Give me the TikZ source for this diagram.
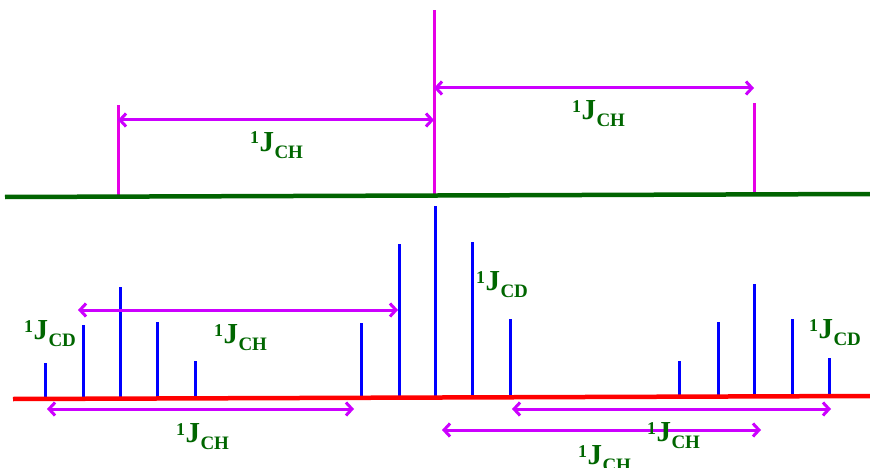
\documentclass[tikz,border=0pt]{standalone}
\usepackage{fontspec}
\setmainfont{Liberation Serif}
\usetikzlibrary{arrows.meta}
\definecolor{dgreen}{RGB}{0,100,0}
\definecolor{tgreen}{RGB}{0,102,0}
\definecolor{mag}{RGB}{230,0,230}
\definecolor{amag}{RGB}{204,0,255}
\newcommand\jlab[1]{\raisebox{7pt}{\fontsize{18}{18}\selectfont 1}\kern0.3pt{\fontsize{29}{29}\selectfont J}\kern0.5pt\raisebox{-7pt}{\fontsize{19}{19}\selectfont #1}}
\tikzset{
  peak/.style={draw=blue, line width=3pt},
  toppeak/.style={draw=mag, line width=3pt},
  jarrow/.style={draw=amag, line width=3pt, {Straight Barb[length=6pt,width=13pt]}-{Straight Barb[length=6pt,width=13pt]}},
  jtext/.style={text=tgreen, font=\bfseries, inner sep=0pt, anchor=base west},
}
\begin{document}
\begin{tikzpicture}[x=1pt,y=-1pt]
\useasboundingbox (0,0) rectangle (870,468);
% top spectrum
\coordinate (g1) at (5,197);
\coordinate (g2) at (870,194);
\coordinate (t1b) at (118,197); \coordinate (t1t) at (118,105);
\coordinate (t2b) at (434,196); \coordinate (t2t) at (434,10);
\coordinate (t3b) at (754,195); \coordinate (t3t) at (754,103);
\draw[toppeak] (t1b) -- (t1t);
\draw[toppeak] (t2b) -- (t2t);
\draw[toppeak] (t3b) -- (t3t);
\draw[draw=dgreen, line width=4.5pt] (g1) -- (g2);
\coordinate (a1l) at (118,120); \coordinate (a1r) at (434,120);
\coordinate (a2l) at (434,88); \coordinate (a2r) at (754,88);
\draw[jarrow] (a1l) -- (a1r);
\draw[jarrow] (a2l) -- (a2r);
\node[jtext] (lt1) at (250,151) {\jlab{CH}};
\node[jtext] (lt2) at (572,120) {\jlab{CH}};
% bottom spectrum
\foreach \x/\t in {45/363,83/325,120/287,157/322,195/361,361/323,399/244,435/206,472/242,510/319,679/361,718/322,754/284,792/319,829/358}
  \draw[peak] (\x,398) -- (\x,\t);
\coordinate (r1) at (13,399);
\coordinate (r2) at (870,396);
\draw[draw=red, line width=4.5pt] (r1) -- (r2);
\coordinate (bAl) at (78,310); \coordinate (bAr) at (398,310);
\coordinate (bBl) at (47,409); \coordinate (bBr) at (354,409);
\coordinate (bCl) at (512,409); \coordinate (bCr) at (831,409);
\coordinate (bDl) at (442,430); \coordinate (bDr) at (761,430);
\draw[jarrow] (bAl) -- (bAr);
\draw[jarrow] (bBl) -- (bBr);
\draw[jarrow] (bCl) -- (bCr);
\draw[jarrow] (bDl) -- (bDr);
\node[jtext] (lA) at (214,343) {\jlab{CH}};
\node[jtext] (lB) at (176,442) {\jlab{CH}};
\node[jtext] (lC) at (647,441) {\jlab{CH}};
\node[jtext] (lD) at (578,464) {\jlab{CH}};
\node[jtext] (cd1) at (24,339) {\jlab{CD}};
\node[jtext] (cd2) at (476,290) {\jlab{CD}};
\node[jtext] (cd3) at (809,338) {\jlab{CD}};
\end{tikzpicture}
\end{document}
